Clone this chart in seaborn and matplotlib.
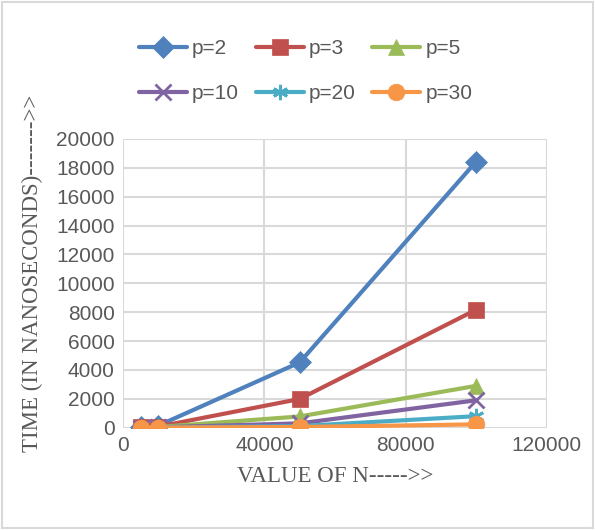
import pandas as pd
import seaborn as sns
from matplotlib import pyplot as plt
from matplotlib.patches import Rectangle

# values
n_values = [5000, 10000, 50000, 100000]
p_labels = ["p=2", "p=3", "p=5", "p=10", "p=20", "p=30"]
p2 = [60, 150, 4520, 18430]
p3 = [30, 80, 1990, 8170]
p5 = [20, 50, 780, 2900]
p10 = [10, 30, 300, 1900]
p20 = [5, 15, 110, 800]
p30 = [5, 10, 50, 230]
x_ticks = [0, 40000, 80000, 120000]
y_ticks = list(range(0, 20001, 2000))

colors = ["#4F81BD", "#C0504D", "#9BBB59", "#8064A2", "#4BACC6", "#F79646"]
markers = ["D", "s", "^", "x", (6, 2, 0), "o"]


def main() -> int:
    series = [p2, p3, p5, p10, p20, p30]
    df = pd.concat([pd.DataFrame({"N": n_values, "time": vals, "p": lab})
                    for lab, vals in zip(p_labels, series)])

    sns.set_style("white")
    plt.rcParams["font.family"] = ["Liberation Sans", "DejaVu Sans"]

    fig = plt.figure(figsize=(5.95, 5.30), dpi=100)
    ax = fig.add_axes([0.207, 0.193, 0.712, 0.545])

    for lab, col, mk in zip(p_labels, colors, markers):
        sub = df[df["p"] == lab]
        big = mk in ("x", (6, 2, 0))
        sns.lineplot(data=sub, x="N", y="time", ax=ax, color=col, marker=mk,
                     markersize=12 if mk == "o" else 11, linewidth=3,
                     markeredgewidth=2 if big else 0.5,
                     markeredgecolor=col, label=lab, zorder=3)

    ax.set_xlim(0, 120000)
    ax.set_ylim(0, 20000)
    ax.set_xticks(x_ticks)
    ax.set_yticks(y_ticks)
    ax.tick_params(axis="both", length=0, labelsize=15, labelcolor="#595959",
                   pad=6)
    ax.grid(True, color="#D9D9D9", linewidth=1.5)
    ax.set_axisbelow(True)
    for s in ax.spines.values():
        s.set_visible(False)

    ax.set_xlabel("VALUE OF N----->>", fontsize=16.5, family="Liberation Serif",
                  color="#595959", labelpad=8)
    ax.set_ylabel("TIME (IN NANOSECONDS)------->>", fontsize=16.5,
                  family="Liberation Serif", color="#595959")
    ax.yaxis.set_label_coords(-0.19, 0.535)

    ax.get_legend().remove()
    handles, labels = ax.get_legend_handles_labels()
    # legend fills column by column, so reorder to read row by row
    order = [0, 3, 1, 4, 2, 5]
    fig.legend([handles[i] for i in order], [labels[i] for i in order],
               loc="center", bbox_to_anchor=(0.514, 0.866),
               ncol=3, frameon=False, fontsize=15, handlelength=2.3,
               handletextpad=0.25, columnspacing=0.8, labelspacing=1.25,
               labelcolor="#595959")

    fig.patches.append(Rectangle((0.003, 0.003), 0.994, 0.994,
                                 transform=fig.transFigure, fill=False,
                                 edgecolor="#D9D9D9", linewidth=1.5))

    fig.savefig("out.png", dpi=100)
    return 0


if __name__ == '__main__':
    raise SystemExit(main())
